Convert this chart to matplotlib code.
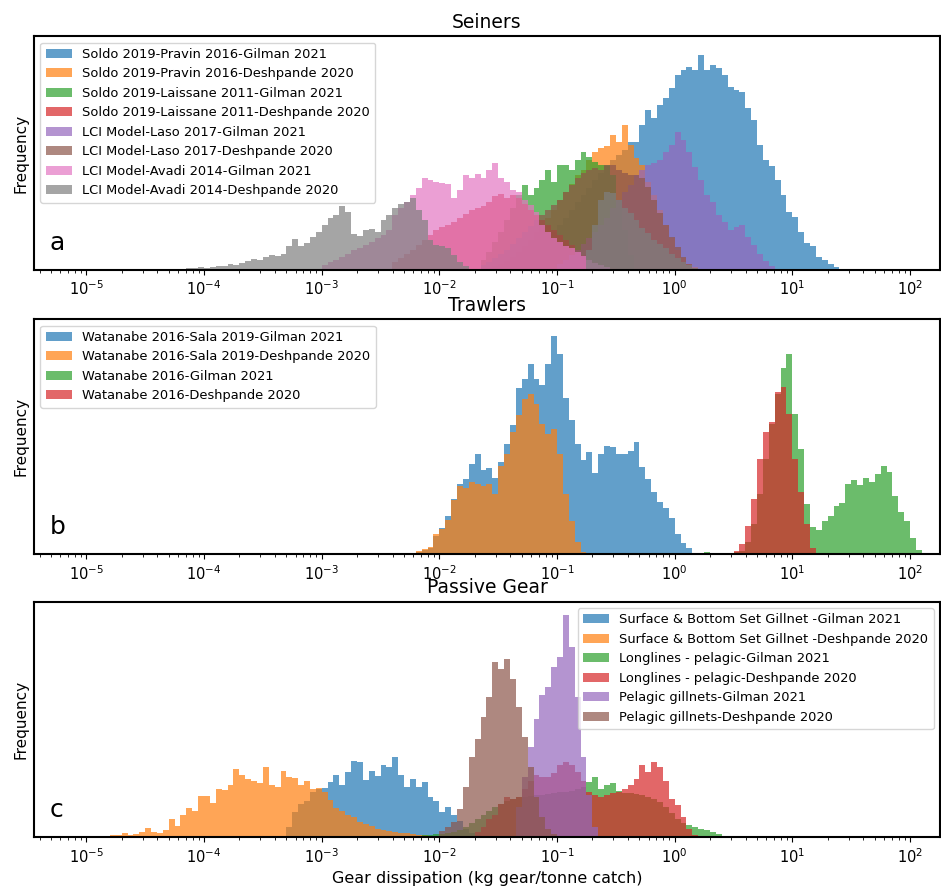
import numpy as np
import matplotlib
matplotlib.use("Agg")
import matplotlib.pyplot as plt

# histogram bins are 0.05 decade wide; each series = log10 of first bin edge + bin counts
BIN = 0.05
colors = ['tab:blue', 'tab:orange', 'tab:green', 'tab:red',
          'tab:purple', 'tab:brown', 'tab:pink', 'tab:gray']

# ---- Seiners ----
seiners_labels = ['Soldo 2019-Pravin 2016-Gilman 2021',
                  'Soldo 2019-Pravin 2016-Deshpande 2020',
                  'Soldo 2019-Laissane 2011-Gilman 2021',
                  'Soldo 2019-Laissane 2011-Deshpande 2020',
                  'LCI Model-Laso 2017-Gilman 2021',
                  'LCI Model-Laso 2017-Deshpande 2020',
                  'LCI Model-Avadi 2014-Gilman 2021',
                  'LCI Model-Avadi 2014-Deshpande 2020']
seiners_start = [-1.5, -1.6, -1.65, -2.4, -1.0, -1.65, -3.0, -4.2]
seiners_pravin_gilman = [2, 4, 6, 9, 13, 17, 22, 27, 33, 38, 45, 52, 60, 68, 75, 82, 90, 97,
                         104, 110, 115, 120, 128, 128, 145, 160, 152, 165, 172, 182, 195, 200,
                         203, 200, 215, 200, 205, 202, 195, 183, 180, 178, 162, 150, 125, 110,
                         104, 90, 75, 58, 53, 38, 27, 24, 13, 10, 6, 3, 1]
seiners_pravin_deshpande = [2, 4, 6, 9, 13, 18, 24, 30, 38, 45, 52, 60, 70, 78, 86, 95, 100,
                            110, 118, 122, 124, 135, 128, 145, 125, 112, 105, 88, 75, 60, 45,
                            32, 20, 12, 6, 3]
seiners_laissane_gilman = [10, 18, 28, 38, 50, 62, 75, 85, 75, 82, 90, 100, 88, 105, 105, 100,
                           110, 118, 113, 108, 105, 105, 95, 70, 40, 15]
seiners_laissane_deshpande = [8, 12, 16, 20, 25, 30, 35, 40, 43, 45, 48, 52, 56, 60, 62, 64, 68,
                              74, 76, 72, 75, 72, 66, 60, 55, 50, 45, 40, 35, 30, 25, 20, 15,
                              11, 8, 5, 3, 2]
seiners_laso_gilman = [6, 10, 15, 20, 26, 32, 38, 45, 52, 62, 70, 78, 85, 95, 100, 105, 107,
                       110, 118, 125, 138, 130, 118, 103, 90, 75, 68, 55, 48, 40, 43, 45, 33,
                       25, 16, 9, 4]
seiners_laso_deshpande = [5, 8, 12, 16, 20, 26, 32, 38, 44, 50, 55, 60, 65, 70, 78, 85, 92, 97,
                          100, 102, 100, 105, 105, 100, 97, 95, 95, 92, 83, 70, 57, 45, 33, 23,
                          13, 6, 2]
seiners_avadi_gilman = [5, 8, 10, 13, 16, 20, 22, 25, 28, 32, 35, 40, 55, 62, 68, 75, 82, 92,
                        90, 88, 87, 86, 72, 80, 95, 92, 96, 92, 100, 107, 92, 88, 80, 78, 70,
                        65, 58, 45, 38, 32, 28, 24, 22, 18, 14, 10, 7, 5, 3]
seiners_avadi_deshpande = [1, 2, 2, 3, 2, 3, 4, 4, 6, 5, 7, 9, 11, 10, 13, 15, 14, 16, 24, 31,
                           24, 27, 33, 38, 45, 52, 55, 64, 58, 36, 34, 40, 41, 38, 50, 55, 62,
                           66, 68, 72, 60, 50, 30, 25, 24, 22, 15, 8, 4,
                           0, 0, 0, 0, 0, 0, 0, 0, 0, 0, 0, 0, 0, 0, 0, 0, 0, 0, 0, 0,
                           20, 45, 70, 78, 77, 70, 62, 57, 50, 42, 37, 30, 26, 22, 16, 12, 8,
                           5, 2]
seiners_counts = [seiners_pravin_gilman, seiners_pravin_deshpande, seiners_laissane_gilman,
                  seiners_laissane_deshpande, seiners_laso_gilman, seiners_laso_deshpande,
                  seiners_avadi_gilman, seiners_avadi_deshpande]

# ---- Trawlers ----
trawlers_labels = ['Watanabe 2016-Sala 2019-Gilman 2021',
                   'Watanabe 2016-Sala 2019-Deshpande 2020',
                   'Watanabe 2016-Gilman 2021',
                   'Watanabe 2016-Deshpande 2020']
trawlers_start = [-2.25, -2.2, 0.25, 0.5]
trawlers_sala_gilman = [1, 2, 4, 6, 18, 26, 38, 55, 70, 75, 90, 100, 84, 86, 76, 92, 110, 129,
                        166, 175, 190, 175, 169, 190, 218, 200, 156, 134, 110, 94, 102, 81, 100,
                        108, 107, 100, 100, 103, 112, 87, 75, 62, 52, 46, 36, 20, 11, 6, 1]
trawlers_sala_deshpande = [3, 5, 7, 20, 25, 34, 54, 68, 66, 72, 70, 68, 70, 60, 88, 100, 122,
                           139, 155, 160, 150, 130, 120, 125, 100, 60, 33, 12, 2]
trawlers_gilman = [2, 0, 1, 0, 0, 2, 3, 12, 30, 60, 95, 130, 160, 186, 200, 140, 105, 50, 27,
                   24, 33, 38, 48, 51, 70, 74, 69, 76, 72, 80, 88, 82, 58, 42, 33, 16, 4]
trawlers_deshpande = [3, 10, 28, 55, 95, 122, 132, 162, 167, 140, 95, 62, 30, 6]
trawlers_counts = [trawlers_sala_gilman, trawlers_sala_deshpande,
                   trawlers_gilman, trawlers_deshpande]

# ---- Passive gear ----
passive_labels = ['Surface & Bottom Set Gillnet -Gilman 2021',
                  'Surface & Bottom Set Gillnet -Deshpande 2020',
                  'Longlines - pelagic-Gilman 2021',
                  'Longlines - pelagic-Deshpande 2020',
                  'Pelagic gillnets-Gilman 2021',
                  'Pelagic gillnets-Deshpande 2020']
passive_start = [-3.3, -4.85, -2.2, -1.7, -1.35, -2.0]
passive_setnet_gilman = [10, 25, 33, 36, 45, 48, 49, 55, 62, 52, 65, 76, 75, 57, 66, 61, 72, 70,
                         80, 62, 50, 58, 50, 55, 40, 36, 25, 30, 22, 16, 8, 4, 2]
passive_setnet_deshpande = [1, 2, 2, 4, 2, 3, 5, 9, 5, 4, 7, 18, 11, 22, 29, 26, 41, 41, 34, 48,
                            47, 52, 68, 62, 58, 56, 54, 70, 52, 50, 66, 60, 59, 52, 56, 48, 49,
                            45, 37, 29, 26, 22, 20, 15, 13, 11, 8, 7, 6, 5, 4, 4, 3, 2, 2, 1]
passive_longline_gilman = [1, 2, 2, 3, 3, 4, 5, 7, 10, 14, 18, 22, 26, 30, 33, 36, 38, 40, 40,
                           41, 42, 42, 43, 44, 45, 45, 46, 48, 50, 55, 60, 48, 52, 54, 46, 44,
                           44, 43, 42, 40, 38, 35, 30, 24, 18, 14, 12, 10, 8, 7, 5, 3, 1]
passive_longline_deshpande = [5, 10, 18, 22, 33, 40, 38, 40, 48, 56, 62, 60, 60, 64, 72, 75,
                              72, 65, 56, 45, 42, 40, 42, 44, 45, 48, 52, 58, 72, 65, 75, 70,
                              56, 38, 32, 20, 8, 2]
passive_pelagic_gilman = [30, 60, 90, 118, 142, 150, 170, 180, 222, 190, 140, 80, 42, 10]
passive_pelagic_deshpande = [6, 10, 15, 28, 50, 80, 98, 120, 140, 175, 168, 178, 158, 130, 100,
                             70, 40, 20, 8, 3]
passive_counts = [passive_setnet_gilman, passive_setnet_deshpande, passive_longline_gilman,
                  passive_longline_deshpande, passive_pelagic_gilman, passive_pelagic_deshpande]

panels = [('Seiners', 'a', seiners_labels, seiners_start, seiners_counts, 'upper left', 234),
          ('Trawlers', 'b', trawlers_labels, trawlers_start, trawlers_counts, 'upper left', 235),
          ('Passive Gear', 'c', passive_labels, passive_start, passive_counts, 'upper right', 235.6)]

fig = plt.figure(figsize=(9.41, 8.91), dpi=100)
rects = [[0.036, 0.697, 0.963, 0.2626],
         [0.036, 0.378, 0.963, 0.2638],
         [0.036, 0.0603, 0.963, 0.2645]]

for rect, (title, letter, labels, starts, counts, loc, top) in zip(rects, panels):
    ax = fig.add_axes(rect)
    for i, (lab, s, c) in enumerate(zip(labels, starts, counts)):
        edges = 10 ** (s + BIN * np.arange(len(c) + 1))
        centers = np.sqrt(edges[:-1] * edges[1:])
        ax.hist(centers, bins=edges, weights=c, color=colors[i], alpha=0.7, label=lab)
    ax.set_xscale('log')
    ax.set_xlim(10 ** -5.446, 10 ** 2.255)
    ax.set_ylim(0, top)
    ax.set_yticks([])
    ax.set_ylabel('Frequency', fontsize=11)
    ax.set_title(title, fontsize=13.5)
    ax.tick_params(axis='x', labelsize=10.5)
    ax.text(0.017, 0.085, letter, transform=ax.transAxes, fontsize=18)
    ax.legend(loc=loc, fontsize=9.4)
    for sp in ax.spines.values():
        sp.set_linewidth(1.5)

ax.set_xlabel('Gear dissipation (kg gear/tonne catch)', fontsize=11.5)
fig.savefig('out.png', dpi=100)
